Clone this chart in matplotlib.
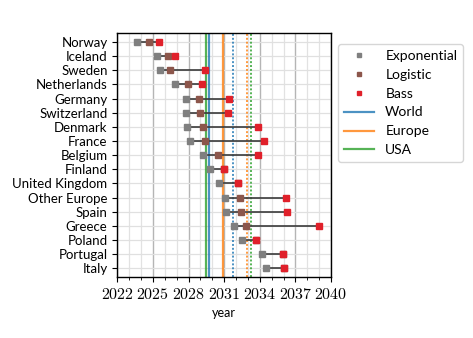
import matplotlib
matplotlib.use("Agg")
import matplotlib.pyplot as plt
import numpy as np
from matplotlib.lines import Line2D
from matplotlib.ticker import MultipleLocator

plt.rcParams['mathtext.fontset'] = 'cm'

countries = ["Norway", "Iceland", "Sweden", "Netherlands", "Germany", "Switzerland",
             "Denmark", "France", "Belgium", "Finland", "United Kingdom", "Other Europe",
             "Spain", "Greece", "Poland", "Portugal", "Italy"]
exponential = [2023.68, 2025.32, 2025.57, 2026.86, 2027.79, 2027.79, 2027.9, 2028.12, 2029.22,
               2029.8, 2030.6, 2031.03, 2031.16, 2031.83, 2032.53, 2034.19, 2034.53]
logistic = [2024.67, 2026.3, 2026.44, 2027.98, 2028.85, 2028.99, 2029.19, 2029.36, 2030.51,
            2031.02, 2032.19, 2032.31, 2032.42, 2032.82, 2033.66, 2035.99, 2036.07]
bass = [2025.49, 2026.86, 2029.39, 2029.11, 2031.38, 2031.33, 2033.85, 2034.33, 2033.83,
        2031.02, 2032.19, 2036.19, 2036.27, 2038.99, 2033.66, 2035.99, 2036.07]

ref_names = ["World", "Europe", "USA"]
ref_solid = [2029.76, 2030.89, 2029.46]
ref_dotted = [2031.78, 2032.9, 2033.24]
ref_colors = ["#1f77b4", "#ff7f0e", "#2ca02c"]

xticks = [2022, 2025, 2028, 2031, 2034, 2037, 2040]

fig = plt.figure(figsize=(4.73, 3.38), dpi=100)
ax = fig.add_axes([0.248, 0.181, 0.452, 0.72])

y = np.arange(len(countries))

for xv, c in zip(ref_solid, ref_colors):
    ax.axvline(xv, color=c, lw=1.6, alpha=0.8, zorder=2)
for xv, c in zip(ref_dotted, ref_colors):
    ax.axvline(xv, color=c, lw=1.4, ls=(0, (1, 1)), alpha=0.8, zorder=2)

for i in range(len(countries)):
    vals = [exponential[i], logistic[i], bass[i]]
    ax.plot([min(vals), max(vals)], [y[i], y[i]], color="#3a3a3a", lw=1.2, zorder=3)

ms = 4.5
ax.plot(logistic, y, ls="none", marker="s", ms=ms, color="#8c564b", zorder=4)
ax.plot(bass, y, ls="none", marker="s", ms=ms, color="#e0202a", zorder=5)
ax.plot(exponential, y, ls="none", marker="s", ms=ms, color="#7f7f7f", zorder=4)

ax.set_xlim(2022, 2040)
ax.set_ylim(len(countries) - 0.4, -0.6)
ax.set_yticks(y)
ax.set_yticklabels(countries, family="Lato", fontsize=9.5)
ax.set_xticks(xticks)
ax.set_xticklabels([f"${t}$" for t in xticks], fontsize=11.5)
ax.xaxis.set_minor_locator(MultipleLocator(1))
ax.grid(which="major", axis="x", color="#b5b5b5", lw=1.0, zorder=0)
ax.grid(which="minor", axis="x", color="#e2e2e2", lw=0.9, zorder=0)
ax.grid(which="major", axis="y", color="#e0e0e0", lw=0.9, zorder=0)
ax.tick_params(axis="x", which="minor", length=2)
ax.set_axisbelow(True)
ax.set_xlabel("year", family="Lato", fontsize=9)
for s in ax.spines.values():
    s.set_linewidth(1.0)

handles = [
    Line2D([], [], ls="none", marker="s", ms=3.5, color="#7f7f7f", label="Exponential"),
    Line2D([], [], ls="none", marker="s", ms=3.5, color="#8c564b", label="Logistic"),
    Line2D([], [], ls="none", marker="s", ms=3.5, color="#e0202a", label="Bass"),
]
for n, c in zip(ref_names, ref_colors):
    handles.append(Line2D([], [], color=c, lw=1.6, alpha=0.8, label=n))
leg = ax.legend(handles=handles, loc="upper left", bbox_to_anchor=(1.0, 0.985),
                prop={"family": "Lato", "size": 10}, frameon=True,
                handlelength=2.2, labelspacing=0.5)
leg.get_frame().set_edgecolor("#cccccc")

fig.savefig("out.png", dpi=100)
